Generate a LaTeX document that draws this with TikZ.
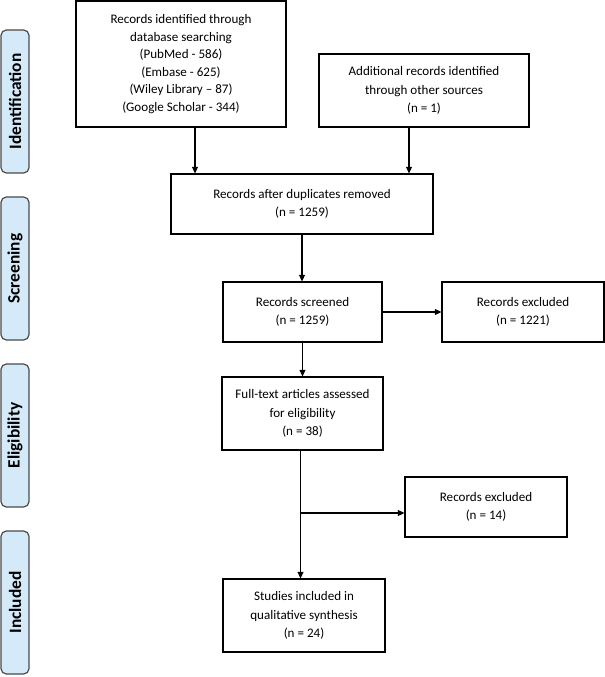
\documentclass[tikz,border=0pt]{standalone}
\usepackage{fontspec}
\setmainfont{Carlito}
\usetikzlibrary{arrows.meta,calc}
\definecolor{lblfill}{HTML}{D5EAF9}
\definecolor{lbldraw}{HTML}{4A4A4A}
\begin{document}
\begin{tikzpicture}[x=0.75pt,y=-0.75pt,
  box/.style={draw=black,line width=0.8pt,fill=white,align=center,inner sep=2pt,
    font=\fontsize{9.8}{14}\selectfont},
  phase/.style={draw=lbldraw,fill=lblfill,line width=0.9pt,rounded corners=4pt,
    rotate=90,minimum width=107.25pt,minimum height=21pt,inner sep=0pt,
    font=\fontsize{13}{15}\selectfont\bfseries},
  arr/.style={draw=black,line width=0.8pt,-{Triangle[length=5pt,width=4.5pt]}}]
\useasboundingbox (0,0) rectangle (605,677);
% phase labels
\node[phase] (p1) at (15,101.5) {Identification};
\node[phase] (p2) at (15,268.5) {Screening};
\node[phase] (p3) at (15,435.5) {Eligibility};
\node[phase] (p4) at (15,602.5) {Included};
% boxes
\node[box,minimum width=157.5pt,minimum height=94.5pt,font=\fontsize{9.8}{13.2}\selectfont] (A) at (181,64)
  {Records identified through\\database searching\\(PubMed - 586)\\(Embase - 625)\\(Wiley Library -- 87)\\(Google Scholar - 344)};
\node[box,minimum width=157.5pt,minimum height=54.75pt] (B) at (424,90.5)
  {Additional records identified\\through other sources\\(n = 1)};
\node[box,minimum width=196.5pt,minimum height=45pt] (C) at (302,204)
  {Records after duplicates removed\\(n = 1259)};
\node[box,minimum width=119.25pt,minimum height=45pt] (D) at (302.5,312)
  {Records screened\\(n = 1259)};
\node[box,minimum width=121.5pt,minimum height=45pt] (E) at (523,312)
  {Records excluded\\(n = 1221)};
\node[box,minimum width=120.75pt,minimum height=54.75pt] (F) at (302.5,413.5)
  {Full-text articles assessed\\for eligibility\\(n = 38)};
\node[box,minimum width=121.5pt,minimum height=45pt] (G) at (486,507)
  {Records excluded\\(n = 14)};
\node[box,minimum width=121.5pt,minimum height=54.75pt] (H) at (304,615.5)
  {Studies included in\\qualitative synthesis\\(n = 24)};
% connectors
\draw[arr] ([xshift=10.5pt]A.south) -- ([xshift=10.5pt]A.south |- C.north);
\draw[arr] ([xshift=-11.25pt]B.south) -- ([xshift=-11.25pt]B.south |- C.north);
\draw[arr] (C.south) -- (C.south |- D.north);
\draw[arr] (D.east) -- (E.west);
\draw[arr] (D.south) -- (D.south |- F.north);
\draw[arr] ([xshift=-1.5pt]F.south) -- ([xshift=-1.5pt]F.south |- H.north);
\coordinate (J) at ([xshift=-1.5pt,yshift=-4.5pt]F.south |- G.west);
\draw[arr] (J) -- (J -| G.west);
\end{tikzpicture}
\end{document}
